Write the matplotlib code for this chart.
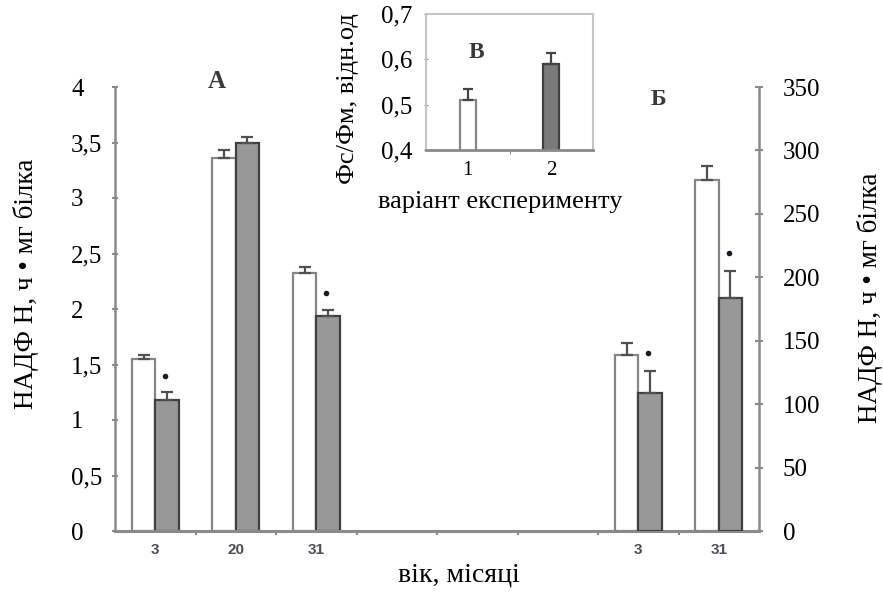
import matplotlib
matplotlib.use("Agg")
import matplotlib.pyplot as plt
import numpy as np

plt.rcParams['font.family'] = ['Liberation Serif', 'DejaVu Serif']

# panel A: left axis, ages 3, 20, 31 months
ages_a = ["3", "20", "31"]
ctrl_a = [1.55, 3.36, 2.32]
ctrl_a_err = [0.04, 0.07, 0.06]
exp_a = [1.18, 3.50, 1.94]
exp_a_err = [0.07, 0.05, 0.05]
sig_a = [True, False, True]

# panel Б: right axis, ages 3, 31 months
ages_b = ["3", "31"]
ctrl_b = [139, 277]
ctrl_b_err = [9, 11]
exp_b = [109, 184]
exp_b_err = [17, 21]
sig_b = [True, True]

# panel В: inset
variants = ["1", "2"]
fvfm = [0.51, 0.59]
fvfm_err = [0.025, 0.025]

# category slots on the shared x axis (3 empty slots between the panels)
slots_a = [0, 1, 2]
slots_b = [6, 7]
n_slots = 8

W, H = 883, 592
WHITE_EDGE = "#858585"
GRAY_FACE = "#989898"
GRAY_EDGE = "#404040"
SPINE = "#8a8a8a"
LETTER = "#3d3a35"
w = 0.29


def px(x, y):
    # pixel position (from top-left) -> figure fraction
    return x / W, 1 - y / H


def bars(ax, xs, ctrl, ctrl_err, exp, exp_err, sig, dot_off):
    xs = np.array(xs, dtype=float)
    ax.bar(xs - w/2, ctrl, w, color="white", edgecolor=WHITE_EDGE, linewidth=1.6, zorder=2)
    ax.bar(xs + w/2, exp, w, color=GRAY_FACE, edgecolor=GRAY_EDGE, linewidth=1.6, zorder=2)
    ax.errorbar(xs - w/2, ctrl, yerr=[np.zeros(len(ctrl)), ctrl_err], fmt="none",
                ecolor="#505050", elinewidth=1.6, capsize=4, capthick=1.6, zorder=3)
    ax.errorbar(xs + w/2, exp, yerr=[np.zeros(len(exp)), exp_err], fmt="none",
                ecolor="#505050", elinewidth=1.6, capsize=4, capthick=1.6, zorder=3)
    for x, v, e, s in zip(xs, exp, exp_err, sig):
        if s:
            ax.plot(x + w/2 - 0.02, v + e + dot_off, "o", ms=3, color="#1a1a2a", zorder=4)


fig = plt.figure(figsize=(W / 100, H / 100), dpi=100)
ax = fig.add_axes([115 / W, 1 - 531 / H, 644 / W, 444 / H])
ax2 = ax.twinx()

bars(ax, slots_a, ctrl_a, ctrl_a_err, exp_a, exp_a_err, sig_a, 0.15)
bars(ax2, slots_b, ctrl_b, ctrl_b_err, exp_b, exp_b_err, sig_b, 14)

ax.set_xlim(-0.5, n_slots - 0.5)
ax.set_ylim(0, 4)
ax2.set_ylim(0, 350)
ticks_a = np.arange(0, 4.01, 0.5)
ax.set_yticks(ticks_a)
ax.set_yticklabels([("%g" % v).replace(".", ",") for v in ticks_a], fontsize=18)
for t in ax.get_yticklabels():
    t.set_ha("left")
ax2.set_yticks(np.arange(0, 351, 50))
ax2.set_yticklabels([str(v) for v in range(0, 351, 50)], fontsize=18)

# boundary ticks, labels at slot centres
ax.set_xticks(np.arange(0.5, n_slots - 1, 1.0))
ax.set_xticklabels([])
labels = [""] * n_slots
for s, a in zip(slots_a, ages_a):
    labels[s] = a
for s, a in zip(slots_b, ages_b):
    labels[s] = a
ax.set_xticks(np.arange(n_slots), minor=True)
ax.set_xticklabels(labels, minor=True, fontsize=11, fontweight="bold",
                   family="Liberation Sans", color="#4a4e5a")
ax.tick_params(axis="x", which="minor", length=0, pad=9)
ax.tick_params(axis="x", which="major", length=3, color=SPINE, width=1.5)
ax.tick_params(axis="y", length=4, color=SPINE, width=1.5, direction="inout", pad=29.5)
ax2.tick_params(axis="y", length=6, color=SPINE, width=1.5, direction="inout", pad=14)

for a in (ax, ax2):
    a.spines["top"].set_visible(False)
    a.patch.set_visible(False)
ax.spines["right"].set_visible(False)
ax2.spines["left"].set_visible(False)
ax2.spines["bottom"].set_visible(False)
ax.spines["left"].set_color(SPINE)
ax.spines["left"].set_linewidth(1.8)
ax.spines["bottom"].set_color(SPINE)
ax.spines["bottom"].set_linewidth(2.2)
ax2.spines["right"].set_color(SPINE)
ax2.spines["right"].set_linewidth(1.8)

ylab = "НАДФ Н, ч • мг білка"
fig.text(*px(26, 284), ylab, fontsize=19.5, rotation=90, ha="center", va="center")
fig.text(*px(870, 298), ylab, fontsize=19.5, rotation=90, ha="center", va="center")
fig.text(*px(459, 575), "вік, місяці", fontsize=20, ha="center", va="center")

fig.text(*px(217, 82), "А", fontsize=18, fontweight="bold", color=LETTER,
         ha="center", va="center")
fig.text(*px(658, 100), "Б", fontsize=17, fontweight="bold", color=LETTER,
         ha="center", va="center")

# inset В
ins = fig.add_axes([426 / W, 1 - 150 / H, 167 / W, 136 / H])
xi = np.arange(len(variants))
wi = 0.19
ins.bar(xi[0], fvfm[0], wi, color="white", edgecolor=WHITE_EDGE, linewidth=1.6, zorder=2)
ins.bar(xi[1], fvfm[1], wi, color="#7a7a7a", edgecolor=GRAY_EDGE, linewidth=1.6, zorder=2)
ins.errorbar(xi, fvfm, yerr=[np.zeros(len(fvfm)), fvfm_err], fmt="none",
             ecolor="#444444", elinewidth=1.6, capsize=3.5, capthick=1.6, zorder=3)
ins.set_xlim(-0.5, 1.5)
ins.set_ylim(0.4, 0.7)
ins.set_yticks([0.4, 0.5, 0.6, 0.7])
ins.set_yticklabels(["0,4", "0,5", "0,6", "0,7"], fontsize=18)
ins.set_xticks([0.5])
ins.set_xticklabels([])
ins.set_xticks(xi, minor=True)
ins.set_xticklabels(variants, minor=True, fontsize=15)
ins.tick_params(axis="x", which="minor", length=0, pad=8)
ins.tick_params(axis="x", which="major", length=3, color=SPINE)
ins.tick_params(axis="y", length=3, color=SPINE, direction="inout", pad=8)
for name, sp in ins.spines.items():
    sp.set_color("#c4c4c4")
    sp.set_linewidth(1.5)
ins.spines["bottom"].set_color(SPINE)
ins.spines["bottom"].set_linewidth(2)
fig.text(*px(348, 99), "Фс/Фм, відн.од", fontsize=19, rotation=90, ha="center", va="center")
fig.text(*px(500, 202), "варіант експерименту", fontsize=19, ha="center", va="center")
fig.text(*px(476, 52), "В", fontsize=17, fontweight="bold", color=LETTER,
         ha="center", va="center")

fig.savefig("out.png", dpi=100)
